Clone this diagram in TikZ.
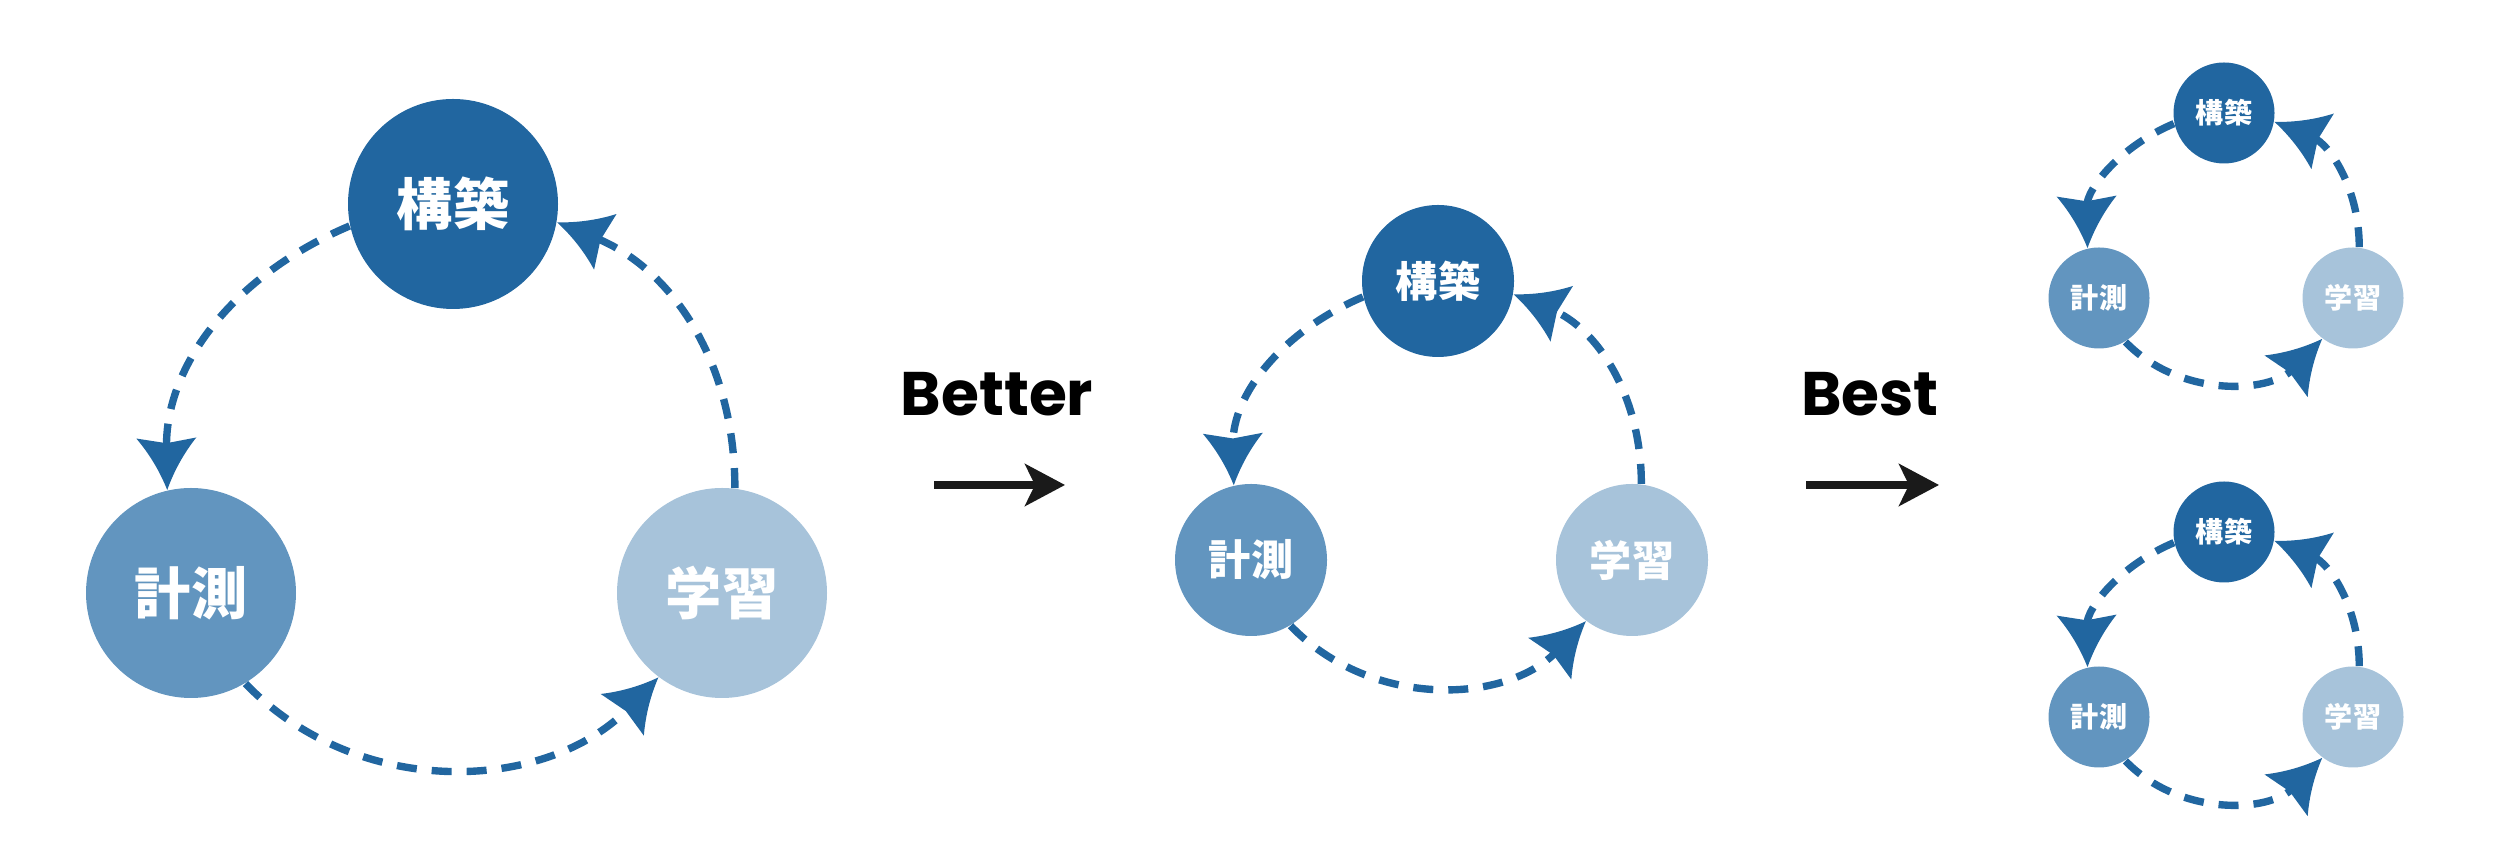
\documentclass[tikz,border=0pt]{standalone}
\usepackage{fontspec}
\setmainfont{Poppins}
\newfontfamily\jpfont{Noto Sans CJK JP}
\usepackage{xcolor}
\usepackage{tikz}
\usetikzlibrary{arrows.meta}
\definecolor{cycdark}{HTML}{2166A0}
\definecolor{cycmid}{HTML}{6295BF}
\definecolor{cyclight}{HTML}{A7C3DA}
\definecolor{nextblack}{HTML}{1A1A1A}
\pgfdeclarearrow{
  name = Swept,
  parameters = {\the\pgfarrowlength,\the\pgfarrowwidth},
  setup code = {
    \pgfarrowssettipend{0pt}
    \pgfarrowssetlineend{-0.8\pgfarrowlength}
    \pgfarrowssetbackend{-\pgfarrowlength}
    \pgfarrowssavethe\pgfarrowlength
    \pgfarrowssavethe\pgfarrowwidth
  },
  drawing code = {
    \pgfpathmoveto{\pgfpoint{0pt}{0pt}}
    \pgfpathquadraticcurveto
      {\pgfpoint{-0.55\pgfarrowlength}{0.18\pgfarrowwidth}}
      {\pgfpoint{-\pgfarrowlength}{0.5\pgfarrowwidth}}
    \pgfpathlineto{\pgfpoint{-0.9\pgfarrowlength}{0pt}}
    \pgfpathlineto{\pgfpoint{-\pgfarrowlength}{-0.5\pgfarrowwidth}}
    \pgfpathquadraticcurveto
      {\pgfpoint{-0.55\pgfarrowlength}{-0.18\pgfarrowwidth}}
      {\pgfpoint{0pt}{0pt}}
    \pgfpathclose
    \pgfusepathqfill
  },
  defaults = {length = 0.52cm, width = 0.6cm}
}

\begin{document}
\begin{tikzpicture}[
  stage/.style={circle, inner sep=0pt, text=white},
  bigstage/.style={stage, minimum size=2.1cm,
    font=\jpfont\bfseries\fontsize{16pt}{16pt}\selectfont},
  midstage/.style={stage, minimum size=1.52cm,
    font=\jpfont\bfseries\fontsize{12pt}{12pt}\selectfont},
  smallstage/.style={stage, minimum size=1.01cm,
    font=\jpfont\bfseries\fontsize{8pt}{8pt}\selectfont},
  cyc/.style={draw=cycdark, line width=2.1pt,
    dash pattern=on 0.2cm off 0.15cm, -{Swept}},
  nextarrow/.style={draw=nextblack, line width=2pt,
    -{Stealth[length=0.4cm, width=0.42cm, inset=0.1cm]}},
  lbl/.style={font=\bfseries\fontsize{17.5pt}{17.5pt}\selectfont,
    text=black, inner sep=0pt}
]
\useasboundingbox (0,0) rectangle (25,8.58);

\node[bigstage, fill=cycdark]  (k1) at (4.53,6.54) {構築};
\node[bigstage, fill=cycmid]   (m1) at (1.91,2.65) {計測};
\node[bigstage, fill=cyclight] (l1) at (7.22,2.65) {学習};

\node[lbl] (better) at (9.97,4.64) {Better};
\coordinate (b1) at (9.34,3.73);
\coordinate (b2) at (10.65,3.73);
\draw[nextarrow] (b1) -- (b2);

\node[midstage, fill=cycdark]  (k2) at (14.38,5.77) {構築};
\node[midstage, fill=cycmid]   (m2) at (12.51,2.98) {計測};
\node[midstage, fill=cyclight] (l2) at (16.32,2.98) {学習};

\node[lbl] (best) at (18.70,4.64) {Best};
\coordinate (c1) at (18.06,3.73);
\coordinate (c2) at (19.39,3.73);
\draw[nextarrow] (c1) -- (c2);

\node[smallstage, fill=cycdark]  (k3) at (22.24,7.45) {構築};
\node[smallstage, fill=cycmid]   (m3) at (20.99,5.60) {計測};
\node[smallstage, fill=cyclight] (l3) at (23.53,5.60) {学習};

\node[smallstage, fill=cycdark]  (k4) at (22.24,3.26) {構築};
\node[smallstage, fill=cycmid]   (m4) at (20.99,1.41) {計測};
\node[smallstage, fill=cyclight] (l4) at (23.53,1.41) {学習};

\foreach \i in {1,...,4} {
  \draw[cyc] (k\i.192) to[out=203,in=91] (m\i.103);
  \draw[cyc] (l\i.83) to[out=90,in=-22] (k\i.350);
  \draw[cyc] (m\i.301) to[out=-46,in=226] (l\i.233);
}
\end{tikzpicture}
\end{document}
